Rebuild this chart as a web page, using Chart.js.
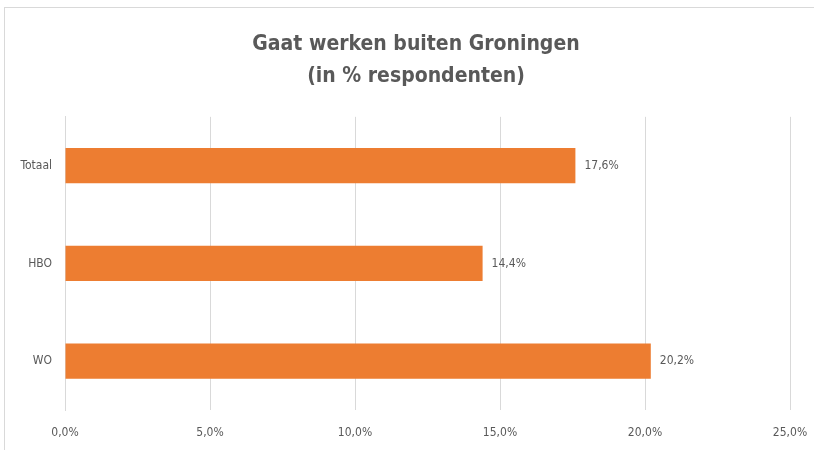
<!DOCTYPE html>
<html lang="nl">
<head>
    <meta charset="UTF-8">
    <title>Gaat werken buiten Groningen</title>
    <script src="https://cdn.jsdelivr.net/npm/chart.js@4.4.0/dist/chart.umd.min.js"></script>
    <style>
        html, body { margin: 0; padding: 0; background: #fff; }
        #wrap { position: relative; width: 814px; height: 450px; }
    </style>
</head>
<body>
    <div id="wrap">
        <canvas id="chart" width="814" height="450"></canvas>
    </div>

    <script>
        const categories = ['Totaal', 'HBO', 'WO'];
        const values = [17.6, 14.4, 20.2];
        const xTicks = [0, 5, 10, 15, 20, 25];
        const titleLines = ['Gaat werken buiten Groningen', '(in % respondenten)'];

        const fontFamily = "'Liberation Sans Narrow', 'DejaVu Sans Condensed', 'Open Sans', sans-serif";
        const textColor = '#595959';
        const gridColor = '#d9d9d9';

        function pct(v) {
            return v.toFixed(1).replace('.', ',') + '%';
        }

        // frame around the chart, like the spreadsheet chart border
        const framePlugin = {
            id: 'frame',
            beforeDraw(chart) {
                const ctx = chart.ctx;
                ctx.save();
                ctx.strokeStyle = gridColor;
                ctx.lineWidth = 1;
                ctx.strokeRect(4.5, 7.5, 820, 460);
                ctx.restore();
            }
        };

        // value labels to the right of each bar
        const labelPlugin = {
            id: 'barLabels',
            afterDatasetsDraw(chart) {
                const ctx = chart.ctx;
                const meta = chart.getDatasetMeta(0);
                ctx.save();
                ctx.font = '12px ' + fontFamily;
                ctx.fillStyle = textColor;
                ctx.textAlign = 'left';
                ctx.textBaseline = 'middle';
                meta.data.forEach((bar, i) => {
                    ctx.fillText(pct(values[i]), bar.x + 9, bar.y);
                });
                ctx.restore();
            }
        };

        new Chart(document.getElementById('chart'), {
            type: 'bar',
            data: {
                labels: categories,
                datasets: [{
                    data: values,
                    backgroundColor: '#ed7d31',
                    barPercentage: 0.72,
                    categoryPercentage: 0.5
                }]
            },
            options: {
                indexAxis: 'y',
                responsive: false,
                animation: false,
                // the frame runs past the right edge, so the title centres a bit right of the middle
                layout: { padding: { left: 0, right: -18, top: 0, bottom: 0 } },
                plugins: {
                    legend: { display: false },
                    tooltip: { enabled: false },
                    title: {
                        display: true,
                        text: titleLines,
                        color: textColor,
                        font: { family: fontFamily, size: 21, weight: 'bold', lineHeight: 1.52 },
                        padding: { top: 29, bottom: 24 }
                    }
                },
                scales: {
                    x: {
                        min: 0,
                        max: 25,
                        afterBuildTicks(scale) {
                            scale.ticks = xTicks.map(v => ({ value: v }));
                        },
                        afterFit(scale) {
                            scale.height = 40;
                            scale.paddingLeft = 0;
                            scale.paddingRight = 24;
                        },
                        grid: { color: gridColor, drawTicks: false },
                        border: { display: false },
                        ticks: {
                            color: textColor,
                            padding: 16,
                            font: { family: fontFamily, size: 12 },
                            callback: v => pct(v)
                        }
                    },
                    y: {
                        afterFit(scale) {
                            scale.width = 65;
                        },
                        grid: { display: false, drawTicks: false },
                        border: { display: true, color: gridColor },
                        ticks: {
                            color: textColor,
                            padding: 13,
                            font: { family: fontFamily, size: 12 }
                        }
                    }
                }
            },
            plugins: [framePlugin, labelPlugin]
        });
    </script>
</body>
</html>
